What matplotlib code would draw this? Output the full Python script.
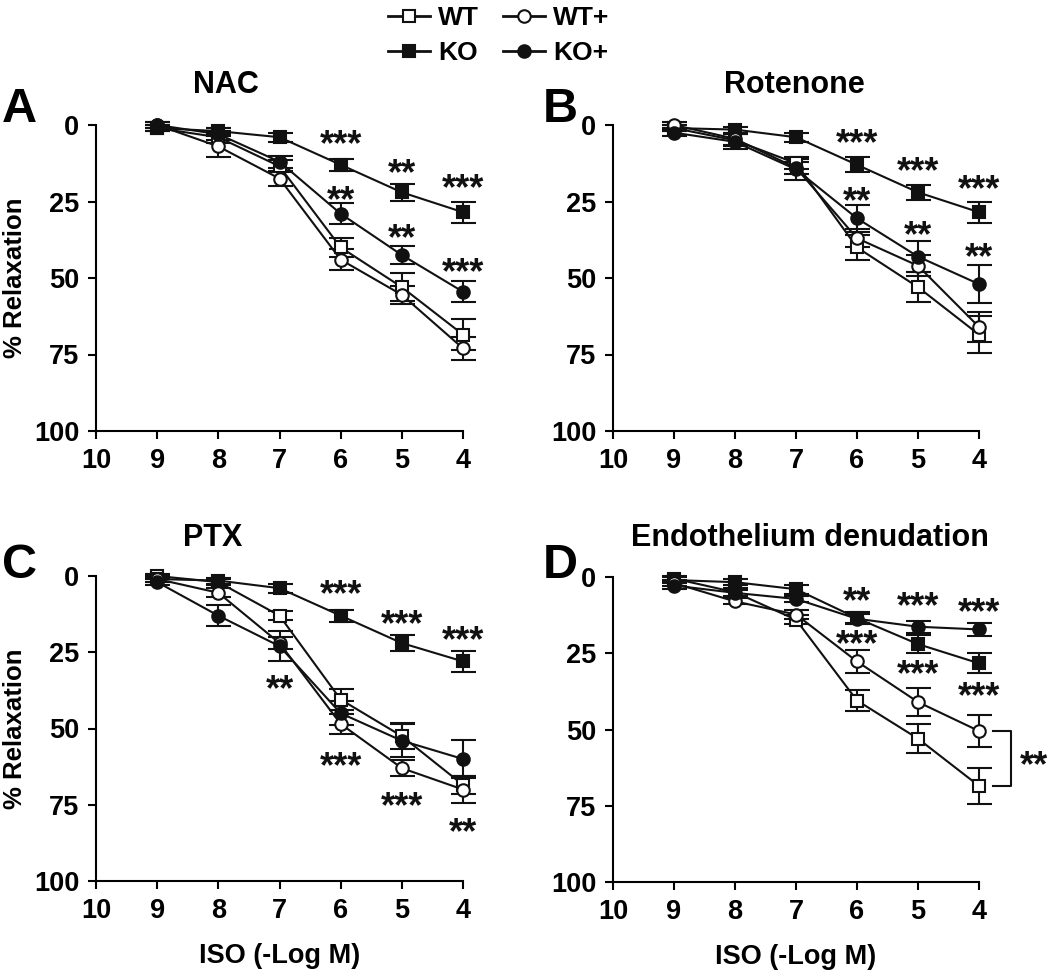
import matplotlib
matplotlib.use("Agg")
import matplotlib.pyplot as plt
from matplotlib.lines import Line2D

plt.rcParams['font.family'] = ['Liberation Sans', 'DejaVu Sans']

x = [9, 8, 7, 6, 5, 4]
series_names = ["WT", "KO", "WT+", "KO+"]

# Panel A: NAC
nac_wt = [1, 4, 13.5, 40, 53, 68.5]
nac_wt_err = [1, 2, 2, 3, 4.5, 5]
nac_ko = [1, 2, 4, 13, 22, 28.5]
nac_ko_err = [1, 1, 1.5, 2, 2.7, 3.5]
nac_wtp = [0, 7, 17.5, 44, 55.5, 73]
nac_wtp_err = [1, 3.5, 2.5, 3.5, 3, 3.8]
nac_kop = [0, 3, 12, 29, 42.5, 54.5]
nac_kop_err = [1, 2, 2, 3.4, 3, 3.5]

# Panel B: Rotenone
rot_wt = [1, 5, 12.5, 40, 53, 68.5]
rot_wt_err = [1, 2, 2, 4, 5, 6]
rot_ko = [1, 1.5, 4, 13, 22, 28.5]
rot_ko_err = [1, 1, 1.5, 2.5, 2.5, 3.5]
rot_wtp = [0, 4.5, 14, 37, 46, 66]
rot_wtp_err = [1, 2, 2, 3, 3.5, 5]
rot_kop = [2.5, 5.5, 14.5, 30.5, 43, 52]
rot_kop_err = [1, 2.5, 3.5, 4.5, 5, 6.3]

# Panel C: PTX
ptx_wt = [0, 2, 13, 40.5, 52.5, 68.5]
ptx_wt_err = [0.8, 1, 1.5, 3.3, 4.3, 3]
ptx_ko = [1, 1.5, 4, 13, 22, 28]
ptx_ko_err = [1, 1, 1.5, 2, 2.5, 3.5]
ptx_wtp = [1, 5.5, 22, 48.5, 63, 70]
ptx_wtp_err = [1, 1.5, 2, 3.3, 2.7, 4.4]
ptx_kop = [2, 13, 23, 45, 54, 60]
ptx_kop_err = [1, 3.5, 5, 4, 5.5, 6.3]

# Panel D: Endothelium denudation
end_wt = [0.5, 5, 14, 40.5, 53, 68.5]
end_wt_err = [0.8, 1.5, 1.5, 3.3, 4.8, 5.8]
end_ko = [1, 1.7, 4, 13.5, 22, 28.3]
end_ko_err = [1, 1, 1.5, 2, 3, 3.3]
end_wtp = [2, 8, 12.3, 27.7, 41, 50.5]
end_wtp_err = [1, 1, 1.5, 3.8, 4.5, 5.2]
end_kop = [2.8, 5.2, 7.2, 13.7, 16.3, 17.2]
end_kop_err = [1, 1, 1, 1.5, 2, 2.2]

titles = ["NAC", "Rotenone", "PTX", "Endothelium denudation"]
letters = ["A", "B", "C", "D"]

stars_A = [(6, 4.3, "***"), (5, 13.6, "**"), (4, 18.5, "***"),
           (6, 22.3, "**"), (5, 35, "**"), (4, 46, "***")]
stars_B = [(6, 3.8, "***"), (5, 13.1, "***"), (4, 18.9, "***"),
           (6, 22.7, "**"), (5, 33.8, "**"), (4, 41, "**")]
stars_C = [(6, 4, "***"), (5, 13.6, "***"), (4, 18.8, "***"),
           (7, 35, "**"), (6, 60.2, "***"), (5, 73.3, "***"), (4, 82, "**")]
stars_D = [(6, 5.8, "**"), (5, 7.4, "***"), (4, 9.3, "***"),
           (6, 19.9, "***"), (5, 29.6, "***"), (4, 36.9, "***")]

panels = [
    (nac_wt, nac_wt_err, nac_ko, nac_ko_err, nac_wtp, nac_wtp_err, nac_kop, nac_kop_err),
    (rot_wt, rot_wt_err, rot_ko, rot_ko_err, rot_wtp, rot_wtp_err, rot_kop, rot_kop_err),
    (ptx_wt, ptx_wt_err, ptx_ko, ptx_ko_err, ptx_wtp, ptx_wtp_err, ptx_kop, ptx_kop_err),
    (end_wt, end_wt_err, end_ko, end_ko_err, end_wtp, end_wtp_err, end_kop, end_kop_err),
]
stars = [stars_A, stars_B, stars_C, stars_D]

styles = {
    "WT": dict(marker="s", mfc="white", ms=8.5),
    "KO": dict(marker="s", mfc="#111111", ms=8.5),
    "WT+": dict(marker="o", mfc="white", ms=9),
    "KO+": dict(marker="o", mfc="#111111", ms=9),
}

STAR_SHIFT = 2.6  # asterisk glyph sits high in its text box
STAR_SIZE = 26

fig = plt.figure(figsize=(10.5, 9.75), dpi=100)
rects = [
    [96/1050, 1-431/975, 367/1050, 306/975],
    [613/1050, 1-431/975, 366/1050, 306/975],
    [96/1050, 1-881/975, 367/1050, 305/975],
    [613/1050, 1-882/975, 366/1050, 305/975],
]
title_x = [0.354, 0.495, 0.318, 0.538]
LW = 1.5
for i, ax_rect in enumerate(rects):
    ax = fig.add_axes(ax_rect)
    d = panels[i]
    for k, name in enumerate(series_names):
        y = d[2*k]
        e = d[2*k+1]
        st = styles[name]
        ax.errorbar(x, y, yerr=e, color="#111111", lw=LW, elinewidth=LW,
                    capsize=9, capthick=LW, marker=st["marker"], ms=st["ms"],
                    mfc=st["mfc"], mec="#111111", mew=1.5, clip_on=False, zorder=3)
    for (sx, sy, s) in stars[i]:
        ax.text(sx, sy + STAR_SHIFT, s, ha="center", va="center", fontsize=STAR_SIZE,
                fontweight="bold", color="#111111")
    ax.set_xlim(10, 4)
    ax.set_ylim(100, 0)
    ax.set_xticks([10, 9, 8, 7, 6, 5, 4])
    ax.set_yticks([0, 25, 50, 75, 100])
    for sp in ["top", "right"]:
        ax.spines[sp].set_visible(False)
    for sp in ["left", "bottom"]:
        ax.spines[sp].set_linewidth(LW)
    ax.tick_params(direction="out", length=6, width=LW, labelsize=19.5, pad=6)
    for lab in ax.get_xticklabels() + ax.get_yticklabels():
        lab.set_fontweight("bold")
    ax.text(title_x[i], 1.105 if i < 2 else 1.10, titles[i], transform=ax.transAxes,
            ha="center", va="baseline", fontsize=22, fontweight="bold")
    if i % 2 == 0:
        ax.set_ylabel("% Relaxation", fontsize=18.5, fontweight="bold")
        ax.yaxis.label.set_va("center")
        ax.yaxis.set_label_coords(-0.222, 0.5)
    if i >= 2:
        ax.set_xlabel("ISO (-Log M)", fontsize=19.5, fontweight="bold", labelpad=14)
    if i == 3:
        # bracket between WT+ and WT at x=4
        bx0, bx1 = 3.77, 3.47
        ax.plot([bx0, bx1, bx1, bx0], [end_wtp[-1], end_wtp[-1], end_wt[-1], end_wt[-1]],
                color="#111111", lw=LW, clip_on=False)
        ax.text(3.1, (end_wtp[-1] + end_wt[-1]) / 2 + STAR_SHIFT, "**", ha="center",
                va="center", fontsize=STAR_SIZE, fontweight="bold", color="#111111",
                clip_on=False)

# panel letters
for lt, (px, py) in zip(letters, [(2, 110), (543, 110), (2, 565), (543, 565)]):
    fig.text(px/1050, 1-py/975, lt, fontsize=35, fontweight="bold", ha="left", va="center")

handles = []
for name in ["WT", "KO", "WT+", "KO+"]:
    st = styles[name]
    handles.append(Line2D([], [], color="#111111", lw=2, marker=st["marker"], ms=st["ms"],
                          mfc=st["mfc"], mec="#111111", mew=1.5))
fig.legend(handles, ["WT", "KO", "WT+", "KO+"], ncol=2, loc="upper center",
           bbox_to_anchor=(0.475, 1.018), frameon=False, prop=dict(size=19, weight="bold"),
           handlelength=1.6, handletextpad=0.3, columnspacing=0.9, labelspacing=0.4)

fig.savefig("out.png", dpi=100)
